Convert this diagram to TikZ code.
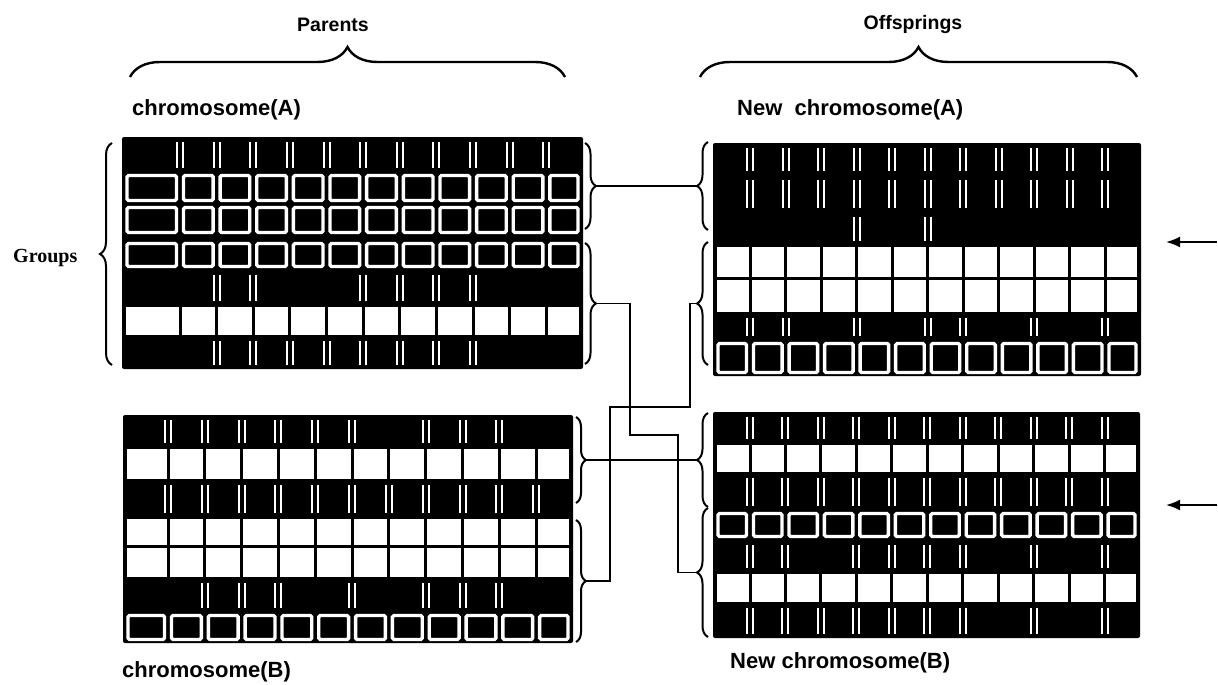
\documentclass[tikz,border=0pt]{standalone}
\usepackage{fontspec}
\setmainfont{Liberation Sans}
\newfontfamily\grpfont{Liberation Serif}
\usetikzlibrary{arrows.meta}
\usetikzlibrary{decorations.pathreplacing}

\tikzset{
  chromo/.style={fill=black, rounded corners=2pt},
  cellw/.style={fill=white},
  cello/.style={draw=white, line width=3.4pt, rounded corners=1.5pt},
  tick/.style={draw=white, line width=2pt},
  grpbrace/.style={decorate, decoration={brace, amplitude=#1}, line width=2pt},
  topbrace/.style={decorate, decoration={brace, amplitude=30pt}, line width=2.4pt},
  link/.style={line width=1.8pt},
  pointer/.style={line width=2pt, -{Latex[length=14pt, width=11pt]}},
  lbl/.style={font=\bfseries\fontsize{22}{26}\selectfont, inner sep=0pt, anchor=west},
  head/.style={font=\bfseries\fontsize{19.5}{24}\selectfont, inner sep=0pt},
}

% black body of a chromosome: x0, first separator, right edge, top, bottom
\newcommand{\chromosome}[5]{%
  \def\cxa{#1}\def\cxb{#2}\def\cxe{#3}%
  \pgfmathsetmacro{\cw}{(#3-#2)/11}%
  \fill[chromo] (#1,#4) rectangle (#3,#5);
}
% row of white cells
\newcommand{\wrow}[2]{%
  \fill[cellw] ({\cxa+4},{#1+1.5}) rectangle ({\cxb-1.5},{#2-1.5});
  \foreach \k in {1,...,10}
    \fill[cellw] ({\cxb+(\k-1)*\cw+1.5},{#1+1.5}) rectangle ({\cxb+\k*\cw-1.5},{#2-1.5});
  \fill[cellw] ({\cxb+10*\cw+1.5},{#1+1.5}) rectangle ({\cxe-4},{#2-1.5});
}
% row of outlined black cells
\newcommand{\orow}[2]{%
  \draw[cello] ({\cxa+5},{#1+3.5}) rectangle ({\cxb-3.5},{#2-3.5});
  \foreach \k in {1,...,10}
    \draw[cello] ({\cxb+(\k-1)*\cw+3.5},{#1+3.5}) rectangle ({\cxb+\k*\cw-3.5},{#2-3.5});
  \draw[cello] ({\cxb+10*\cw+3.5},{#1+3.5}) rectangle ({\cxe-5},{#2-3.5});
}
% black row with marks at the listed separators
\newcommand{\brow}[3]{%
  \foreach \k in {#3} {
    \draw[tick] ({\cxb+(\k-1)*\cw-3},{#1+5}) -- ({\cxb+(\k-1)*\cw-3},{#2-4});
    \draw[tick] ({\cxb+(\k-1)*\cw+3},{#1+5}) -- ({\cxb+(\k-1)*\cw+3},{#2-4});
  }
}

\begin{document}
\begin{tikzpicture}[x=1pt, y=-1pt]
\useasboundingbox (0,0) rectangle (1218,685);

% headings
\node[head] (parents) at (333,25) {Parents};
\node[head] (offspr) at (913,25) {Offsprings};
\draw[topbrace] (130,77) -- (565,77);
\draw[topbrace] (700,77) -- (1137,77);

% chromosome(A)
\chromosome{122}{180}{583}{137}{369}
\brow{137}{172}{1,...,11}
\orow{172}{204}
\orow{204}{236}
\orow{240}{270}
\brow{270}{305}{2,3,6,7,8,9}
\wrow{305}{336}
\brow{336}{369}{2,...,9}

% chromosome(B)
\chromosome{123}{168}{573}{415}{643}
\brow{415}{447}{1,2,3,4,5,6,8,9,10}
\wrow{447}{480}
\brow{480}{517}{1,...,11}
\wrow{517}{546}
\wrow{546}{578}
\brow{578}{612}{2,3,4,6,8,9,10}
\orow{612}{643}

% new chromosome(A)
\chromosome{713}{750}{1141}{143}{376}
\brow{143}{175}{1,...,11}
\brow{175}{212}{1,...,11}
\brow{212}{245}{4,6}
\wrow{245}{278}
\wrow{278}{313}
\brow{313}{340}{1,2,4,6,7,9,11}
\orow{340}{376}

% new chromosome(B)
\chromosome{713}{750}{1140}{412}{638}
\brow{412}{443}{1,...,11}
\wrow{443}{473}
\brow{473}{510}{1,...,11}
\orow{510}{540}
\brow{540}{572}{1,2,4,5,6,7,9,11}
\wrow{572}{603}
\brow{603}{638}{1,2,3,4,5,6,7,9,11}

% labels
\node[lbl] (labA) at (132,110) {chromosome(A)};
\node[lbl] (labB) at (122,672) {chromosome(B)};
\node[lbl] (labNA) at (737,110) {New\ \ chromosome(A)};
\node[lbl] (labNB) at (730,663) {New chromosome(B)};
\node[font=\grpfont\bfseries\fontsize{20}{24}\selectfont, inner sep=0pt, anchor=west] (groups) at (13,258) {Groups};

% group braces
\draw[grpbrace=12pt] (112,365) -- (112,143);
\draw[grpbrace=11pt] (585,143) -- (585,229);
\draw[grpbrace=11pt] (585,243) -- (585,364);
\draw[grpbrace=10pt] (576,417) -- (576,503);
\draw[grpbrace=10pt] (576,520) -- (576,642);
\draw[grpbrace=11pt] (708,230) -- (708,142);
\draw[grpbrace=11pt] (708,365) -- (708,242);
\draw[grpbrace=11pt] (708,507) -- (708,413);
\draw[grpbrace=11pt] (708,637) -- (708,508);
\coordinate (gA1) at (596,186);
\coordinate (gA2) at (596,303.5);
\coordinate (gB1) at (586,460);
\coordinate (gB2) at (586,581);
\coordinate (gNA1) at (697,186);
\coordinate (gNA2) at (697,303.5);
\coordinate (gNB1) at (697,460);
\coordinate (gNB2) at (697,572.5);

% crossover links
\draw[link] (gA1) -- (gNA1);
\draw[link] (gB1) -- (gNB1);
\draw[link] (gA2) -- (630,303.5) -- (630,435) -- (678,435) |- (gNB2);
\draw[link] (gB2) -- (610,581) -- (610,407) -- (690,407) |- (gNA2);

% arrows
\coordinate (arrA) at (1217,242);
\coordinate (tipA) at (1166,242);
\coordinate (arrB) at (1217,505);
\coordinate (tipB) at (1166,505);
\draw[pointer] (arrA) -- (tipA);
\draw[pointer] (arrB) -- (tipB);
\end{tikzpicture}
\end{document}
